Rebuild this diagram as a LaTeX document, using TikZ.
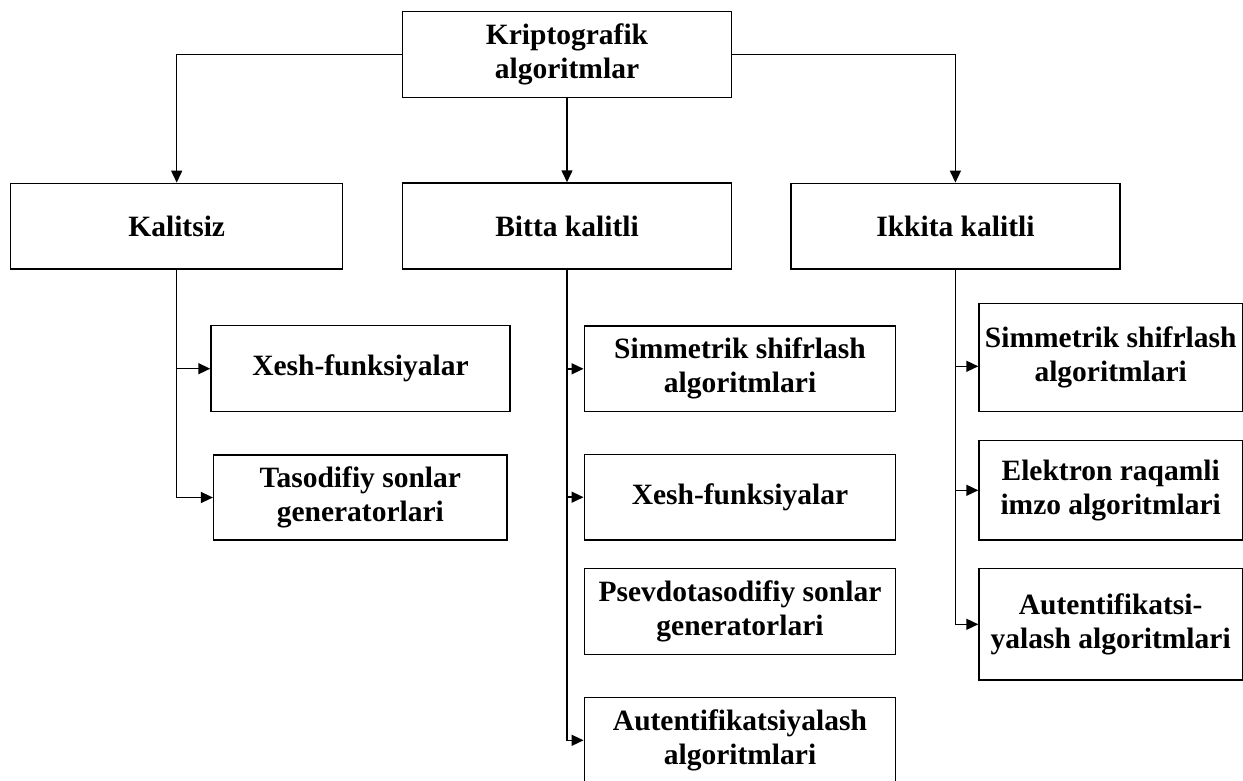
\documentclass[tikz,border=0pt]{standalone}
\usepackage{fontspec}
\setmainfont{Liberation Serif}
\usetikzlibrary{arrows.meta}
\begin{document}
\begin{tikzpicture}[x=1pt,y=-1pt,
  box/.style={draw=black, line width=1.5pt, inner sep=0pt, align=center,
    font=\fontsize{29.5}{34}\selectfont\bfseries},
  arr/.style={line width=1.5pt, -{Triangle[length=12pt,width=11pt]}}]
  \useasboundingbox (0,0) rectangle (1243,780);
  \clip (0,0) rectangle (1243,780);

  % root
  \node[box, minimum width=328.6pt, minimum height=85.6pt] (root) at (567,54.5)
    {Kriptografik\\algoritmlar};

  % three key classes
  \node[box, minimum width=332pt, minimum height=85.7pt] (kal) at (176.7,226.2) {Kalitsiz};
  \node[box, minimum width=328.6pt, minimum height=86pt] (bit) at (567,226) {Bitta kalitli};
  \node[box, minimum width=329.3pt, minimum height=85.7pt] (ikk) at (955.4,226.2) {Ikkita kalitli};

  % keyless
  \node[box, minimum width=299pt, minimum height=86pt] (kxesh) at (360.5,368.7) {Xesh-funksiyalar};
  \node[box, minimum width=293.3pt, minimum height=85pt] (ktas) at (360.3,497.5)
    {Tasodifiy sonlar\\generatorlari};

  % single key
  \node[box, minimum width=311.4pt, minimum height=85.7pt] (bsim) at (740,368.8)
    {Simmetrik shifrlash\\algoritmlari};
  \node[box, minimum width=311.4pt, minimum height=85.7pt] (bxesh) at (740,497.2) {Xesh-funksiyalar};
  \node[box, minimum width=311.4pt, minimum height=86pt] (bpsev) at (740,611.7)
    {Psevdotasodifiy sonlar\\generatorlari};
  \node[box, minimum width=311.4pt, minimum height=86pt] (baut) at (740,740.3)
    {Autentifikatsiyalash\\algoritmlari};

  % two keys
  \node[box, minimum width=263.3pt, minimum height=108pt] (isim) at (1110.7,357.3)
    {Simmetrik shifrlash\\algoritmlari};
  \node[box, minimum width=263.3pt, minimum height=99.3pt] (iel) at (1110.7,490.3)
    {Elektron raqamli\\imzo algoritmlari};
  \node[box, minimum width=263.3pt, minimum height=111.3pt] (iaut) at (1110.7,624.3)
    {Autentifikatsi-\\yalash algoritmlari};

  % connectors
  \draw[arr] (root.west) -| (kal.north);
  \draw[arr] (root.south) -- (bit.north);
  \draw[arr] (root.east) -| (ikk.north);

  \draw[arr] (kal.south) |- (kxesh.west);
  \draw[arr] (kal.south) |- (ktas.west);

  \draw[arr] (bit.south) |- (bsim.west);
  \draw[arr] (bit.south) |- (bxesh.west);
  \draw[arr] (bit.south) |- (baut.west);

  \draw[arr] (ikk.south) |- ([yshift=-9pt]isim.west);
  \draw[arr] (ikk.south) |- (iel.west);
  \draw[arr] (ikk.south) |- (iaut.west);
\end{tikzpicture}
\end{document}
